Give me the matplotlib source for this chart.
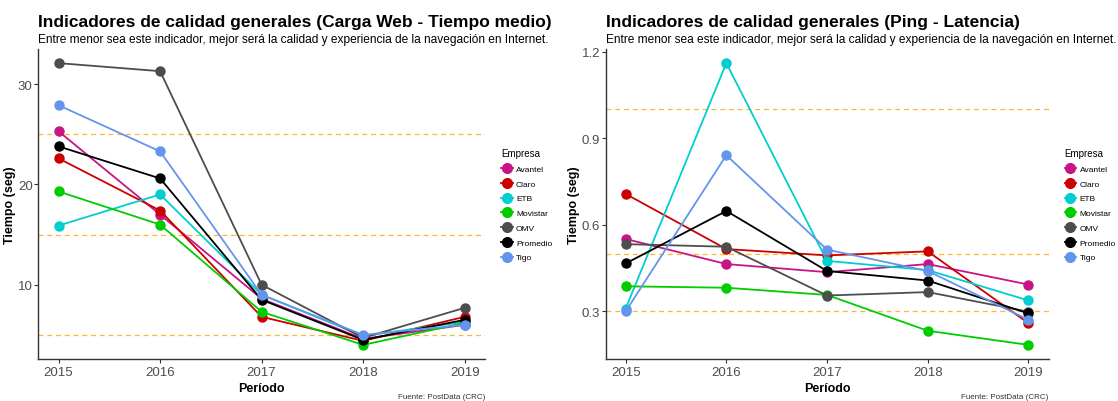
import matplotlib.pyplot as plt

plt.rcParams['font.family'] = ['Liberation Sans', 'DejaVu Sans']

years = [2015, 2016, 2017, 2018, 2019]
empresas = ['Avantel', 'Claro', 'ETB', 'Movistar', 'OMV', 'Promedio', 'Tigo']
colores = ['#C71585', '#CD0000', '#00CED1', '#00CD00', '#4D4D4D', '#000000', '#6495ED']

# Carga Web - Tiempo medio (seg)
web_avantel = [25.3, 17.0, 8.6, 4.6, 6.0]
web_claro = [22.6, 17.4, 6.8, 4.4, 6.8]
web_etb = [15.9, 19.0, 9.0, 4.9, 6.3]
web_movistar = [19.3, 16.0, 7.3, 4.0, 6.2]
web_omv = [32.1, 31.3, 10.0, 4.7, 7.7]
web_promedio = [23.8, 20.6, 8.5, 4.5, 6.5]
web_tigo = [27.9, 23.3, 9.0, 5.0, 6.0]

# Ping - Latencia (seg)
ping_avantel = [0.551, 0.464, 0.436, 0.464, 0.393]
ping_claro = [0.707, 0.516, 0.494, 0.508, 0.259]
ping_etb = [0.310, 1.160, 0.475, 0.443, 0.338]
ping_movistar = [0.387, 0.382, 0.357, 0.233, 0.184]
ping_omv = [0.533, 0.524, 0.355, 0.367, 0.299]
ping_promedio = [0.466, 0.648, 0.440, 0.407, 0.293]
ping_tigo = [0.300, 0.841, 0.514, 0.440, 0.271]

web = [web_avantel, web_claro, web_etb, web_movistar, web_omv, web_promedio, web_tigo]
ping = [ping_avantel, ping_claro, ping_etb, ping_movistar, ping_omv, ping_promedio, ping_tigo]

web_ref = [25, 15, 5]
ping_ref = [1.0, 0.5, 0.3]
web_yticks = [10, 20, 30]
ping_yticks = [0.3, 0.6, 0.9, 1.2]

subtitulo = 'Entre menor sea este indicador, mejor será la calidad y experiencia de la navegación en Internet.'

fig = plt.figure(figsize=(11.18, 4.02), dpi=100)
ax1 = fig.add_axes([0.0342, 0.1045, 0.3996, 0.771])
ax2 = fig.add_axes([0.5416, 0.1045, 0.3963, 0.771])


def panel(ax, series, refs, yticks, titulo, yfmt):
    for ref in refs:
        ax.axhline(ref, color='#FFB733', linestyle=(0, (4, 3)), linewidth=0.9, zorder=1)
    for nombre, col, vals in zip(empresas, colores, series):
        ax.plot(years, vals, color=col, linewidth=1.3, marker='o', markersize=6.5,
                label=nombre, zorder=3)
    allv = [v for s in series for v in s]
    lo, hi = min(allv), max(allv)
    pad = (hi - lo) * 0.05
    ax.set_ylim(lo - pad, hi + pad)
    ax.set_xlim(2015 - 0.2, 2019 + 0.2)
    ax.set_xticks(years)
    ax.set_yticks(yticks)
    ax.set_yticklabels([yfmt(t) for t in yticks])
    for s in ['top', 'right']:
        ax.spines[s].set_visible(False)
    for s in ['left', 'bottom']:
        ax.spines[s].set_color('#333333')
        ax.spines[s].set_linewidth(1.0)
    ax.tick_params(colors='#333333', labelsize=9.5, length=3, labelcolor='#4D4D4D', pad=2)
    ax.tick_params(axis='y', pad=1)
    ax.set_xlabel('Período', fontsize=9, fontweight='bold', labelpad=3)
    ax.set_ylabel('Tiempo (seg)', fontsize=9, fontweight='bold', labelpad=1)
    ax.text(0.0, 1.065, titulo, transform=ax.transAxes, fontsize=12.5, fontweight='bold',
            ha='left', va='bottom')
    ax.text(0.0, 1.014, subtitulo, transform=ax.transAxes, fontsize=8.6,
            ha='left', va='bottom')
    ax.text(1.0, -0.11, 'Fuente: PostData (CRC)', transform=ax.transAxes, fontsize=5.8,
            ha='right', va='top', color='#333333')
    leg = ax.legend(title='Empresa', loc='upper left', bbox_to_anchor=(1.036, 0.68),
                    frameon=False, fontsize=6, title_fontsize=7, handlelength=1.4,
                    handletextpad=0.4, labelspacing=0.83, alignment='left',
                    borderpad=0, borderaxespad=0)
    for h in leg.legend_handles:
        h.set_markersize(7)


panel(ax1, web, web_ref, web_yticks,
      'Indicadores de calidad generales (Carga Web - Tiempo medio)', lambda t: f'{t:g}')
panel(ax2, ping, ping_ref, ping_yticks,
      'Indicadores de calidad generales (Ping - Latencia)', lambda t: f'{t:.1f}')

fig.savefig('out.png', dpi=100)
